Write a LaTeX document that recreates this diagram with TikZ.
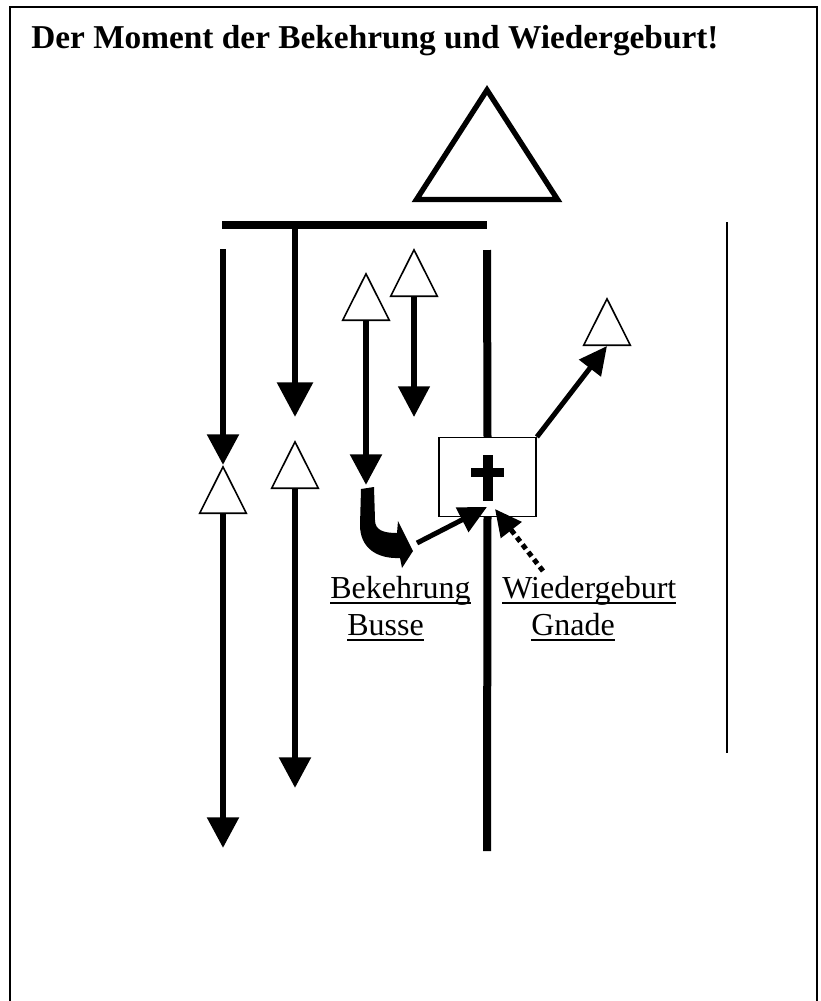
\documentclass[tikz,border=0pt]{standalone}
\usepackage{fontspec}
\setmainfont{Liberation Serif}
\usetikzlibrary{arrows.meta}
\newlength\ulw
\newcommand\myul[1]{\settowidth\ulw{#1}\rlap{\rule[-4.3pt]{\ulw}{1.1pt}}#1}
\begin{document}
\begin{tikzpicture}[x=0.75pt,y=-0.75pt,
  frame/.style={line width=1.5pt},
  vline/.style={line width=4.8pt},
  varrow/.style={line width=4.8pt,-{Triangle[length=23pt,width=23pt]}},
  mainline/.style={line width=6pt},
  slant/.style={line width=3.75pt,-{Triangle[length=21pt,width=20pt]}},
  dotline/.style={line width=3.75pt,dash pattern=on 4pt off 3pt,-{Triangle[length=20pt,width=19pt]}},
  lab/.style={anchor=base west,inner sep=0pt,font=\fontsize{24}{28}\selectfont},
  titletext/.style={anchor=base west,inner sep=0pt,font=\fontsize{25}{30}\selectfont\bfseries},
  crossbox/.style={draw,fill=white,line width=1.1pt,minimum width=73pt,minimum height=59pt,inner sep=0pt},
  smtri/.pic={\draw[fill=white,line width=1.2pt,line join=miter] (0,1.8) -- (23.3,48.2) -- (-23.3,48.2) -- cycle;
              \coordinate (-top) at (0,0); \coordinate (-base) at (0,49);}
]
\useasboundingbox (0,0) rectangle (821,1001);
% frame
\draw[frame] (10,7) rectangle (817,1030);
% title
\node[titletext] (title) at (31,48) {Der Moment der Bekehrung und Wiedergeburt!};
% big triangle
\draw[line width=4pt,line join=miter] (487,90) -- (416.5,199.5) -- (557.5,199.5) -- cycle;
% horizontal bar
\coordinate (barL) at (222,225);
\coordinate (barR) at (487,225);
\draw[mainline] (barL) -- (barR);
% small triangles
\pic (t1) at (223,465) {smtri};
\pic (t2) at (295,440) {smtri};
\pic (t3) at (366,272) {smtri};
\pic (t4) at (414,248) {smtri};
\pic (t5) at (607,297) {smtri};
% line 1
\coordinate (l1top) at (223,249);
\coordinate (l1end) at (223,848);
\draw[varrow] (l1top) -- (t1-top);
\draw[varrow] (t1-base) -- (l1end);
% line 2
\coordinate (l2top) at (295,228);
\coordinate (l2tip) at (295,417);
\coordinate (l2end) at (295,788);
\draw[varrow,line width=5.2pt,-{Triangle[length=26pt,width=26pt]}] (l2top) -- (l2tip);
\draw[varrow] (t2-base) -- (l2end);
% line 3
\coordinate (l3tip) at (366,485);
\draw[varrow] (t3-base) -- (l3tip);
% line 4
\coordinate (l4tip) at (414,417);
\draw[varrow,line width=4.2pt] (t4-base) -- (l4tip);
% main vertical line and box
\coordinate (mtop) at (487,250);
\coordinate (mbot) at (487,851);
\node[crossbox] (box) at (487.5,477) {};
\draw[mainline] (mtop) -- (box.north);
\draw[mainline] (box.south) -- (mbot);
% cross
\fill (483,455) rectangle (493,501);
\fill (471,468) rectangle (504,477);
% arrow to upper right triangle
\draw[slant] (box.north east) -- (t5-base);
% bent arrow
\fill (361,489) -- (374,487) -- (375,520) .. controls (375,530) and (383,533) .. (397,533)
      -- (398,521) -- (413,551) -- (402,568) -- (400,558)
      .. controls (377,559) and (360,548) .. (360,525) -- cycle;
% Bekehrung arrow
\coordinate (bkstart) at (417,543);
\coordinate (meet) at (487,507);
\draw[slant] (bkstart) -- (meet);
% Wiedergeburt dotted arrow
\coordinate (wgstart) at (543,571);
\coordinate (meet2) at (495,509);
\draw[dotline] (wgstart) -- (meet2);
% right thin line
\coordinate (rtop) at (727,222);
\coordinate (rbot) at (727,753);
\draw[frame] (rtop) -- (rbot);
% labels
\node[lab] (bek) at (330,598) {\myul{Bekehrung}};
\node[lab] (bus) at (347,635) {\myul{Busse}};
\node[lab] (wie) at (502,598) {\myul{Wiedergeburt}};
\node[lab] (gna) at (531,635) {\myul{Gnade}};
\end{tikzpicture}
\end{document}
